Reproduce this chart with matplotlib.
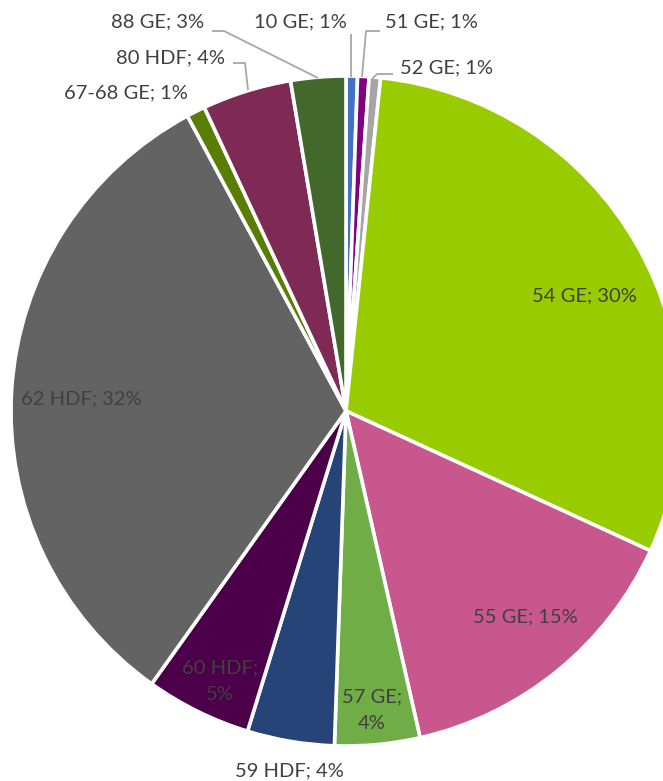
import matplotlib
matplotlib.use("Agg")
import matplotlib.pyplot as plt

# ---- data ----
categories = ["10 GE", "51 GE", "52 GE", "54 GE", "55 GE", "57 GE",
              "59 HDF", "60 HDF", "62 HDF", "67-68 GE", "80 HDF", "88 GE"]
shares = [0.55, 0.55, 0.55, 30.2, 14.6, 4.1, 4.2, 5.1, 32.3, 0.9, 4.3, 2.65]
colors = ["#4472C4", "#800080", "#A5A5A5", "#99CC00", "#C8578D", "#70AD47",
          "#264478", "#4C0049", "#636363", "#5A7D05", "#7E2A55", "#43682B"]

W, H = 663, 781
fig = plt.figure(figsize=(W / 100, H / 100), dpi=100)
ax = fig.add_axes([0, 0, 1, 1])

def Y(py):
    return H - py

cx, cy, R = 346, 411, 335
ax.pie(shares, colors=colors, startangle=90, counterclock=False,
       center=(cx, Y(cy)), radius=R,
       wedgeprops=dict(edgecolor="white", linewidth=2.6))
ax.set_xlim(0, W)
ax.set_ylim(0, H)
ax.set_aspect("equal")
ax.axis("off")

total = sum(shares)
labels = [f"{c}; {round(v / total * 100):.0f}%" for c, v in zip(categories, shares)]

tcol = "#404040"
fs = 14.5
font = "Lato"

# label positions (pixel coords of text centre)
pos = {
    "10 GE": (300, 22),
    "51 GE": (431, 22),
    "52 GE": (446, 68),
    "54 GE": (584, 296),
    "55 GE": (525, 617),
    "57 GE": (372, 710),
    "59 HDF": (289, 771),
    "60 HDF": (220, 681),
    "62 HDF": (81, 399),
    "67-68 GE": (126, 93),
    "80 HDF": (171, 58),
    "88 GE": (158, 22),
}
two_line = {"57 GE", "60 HDF"}
for c, lab in zip(categories, labels):
    x, y = pos[c]
    text = lab.replace("; ", ";\n") if c in two_line else lab
    ax.text(x, Y(y), text, ha="center", va="center", fontsize=fs, color=tcol,
            family=font, linespacing=1.7)

# leader lines
lc = "#A6A6A6"
leaders = [
    [(351, 34), (351, 77)],
    [(380, 31), (366, 31), (362, 77)],
    [(393, 74), (377, 74), (372, 79)],
    [(212, 31), (224, 31), (318, 78)],
    [(233, 63), (245, 63), (248, 90)],
]
for pts in leaders:
    ax.plot([p[0] for p in pts], [Y(p[1]) for p in pts], color=lc, lw=1.3,
            solid_capstyle="butt")

fig.savefig("out.png", dpi=100)
